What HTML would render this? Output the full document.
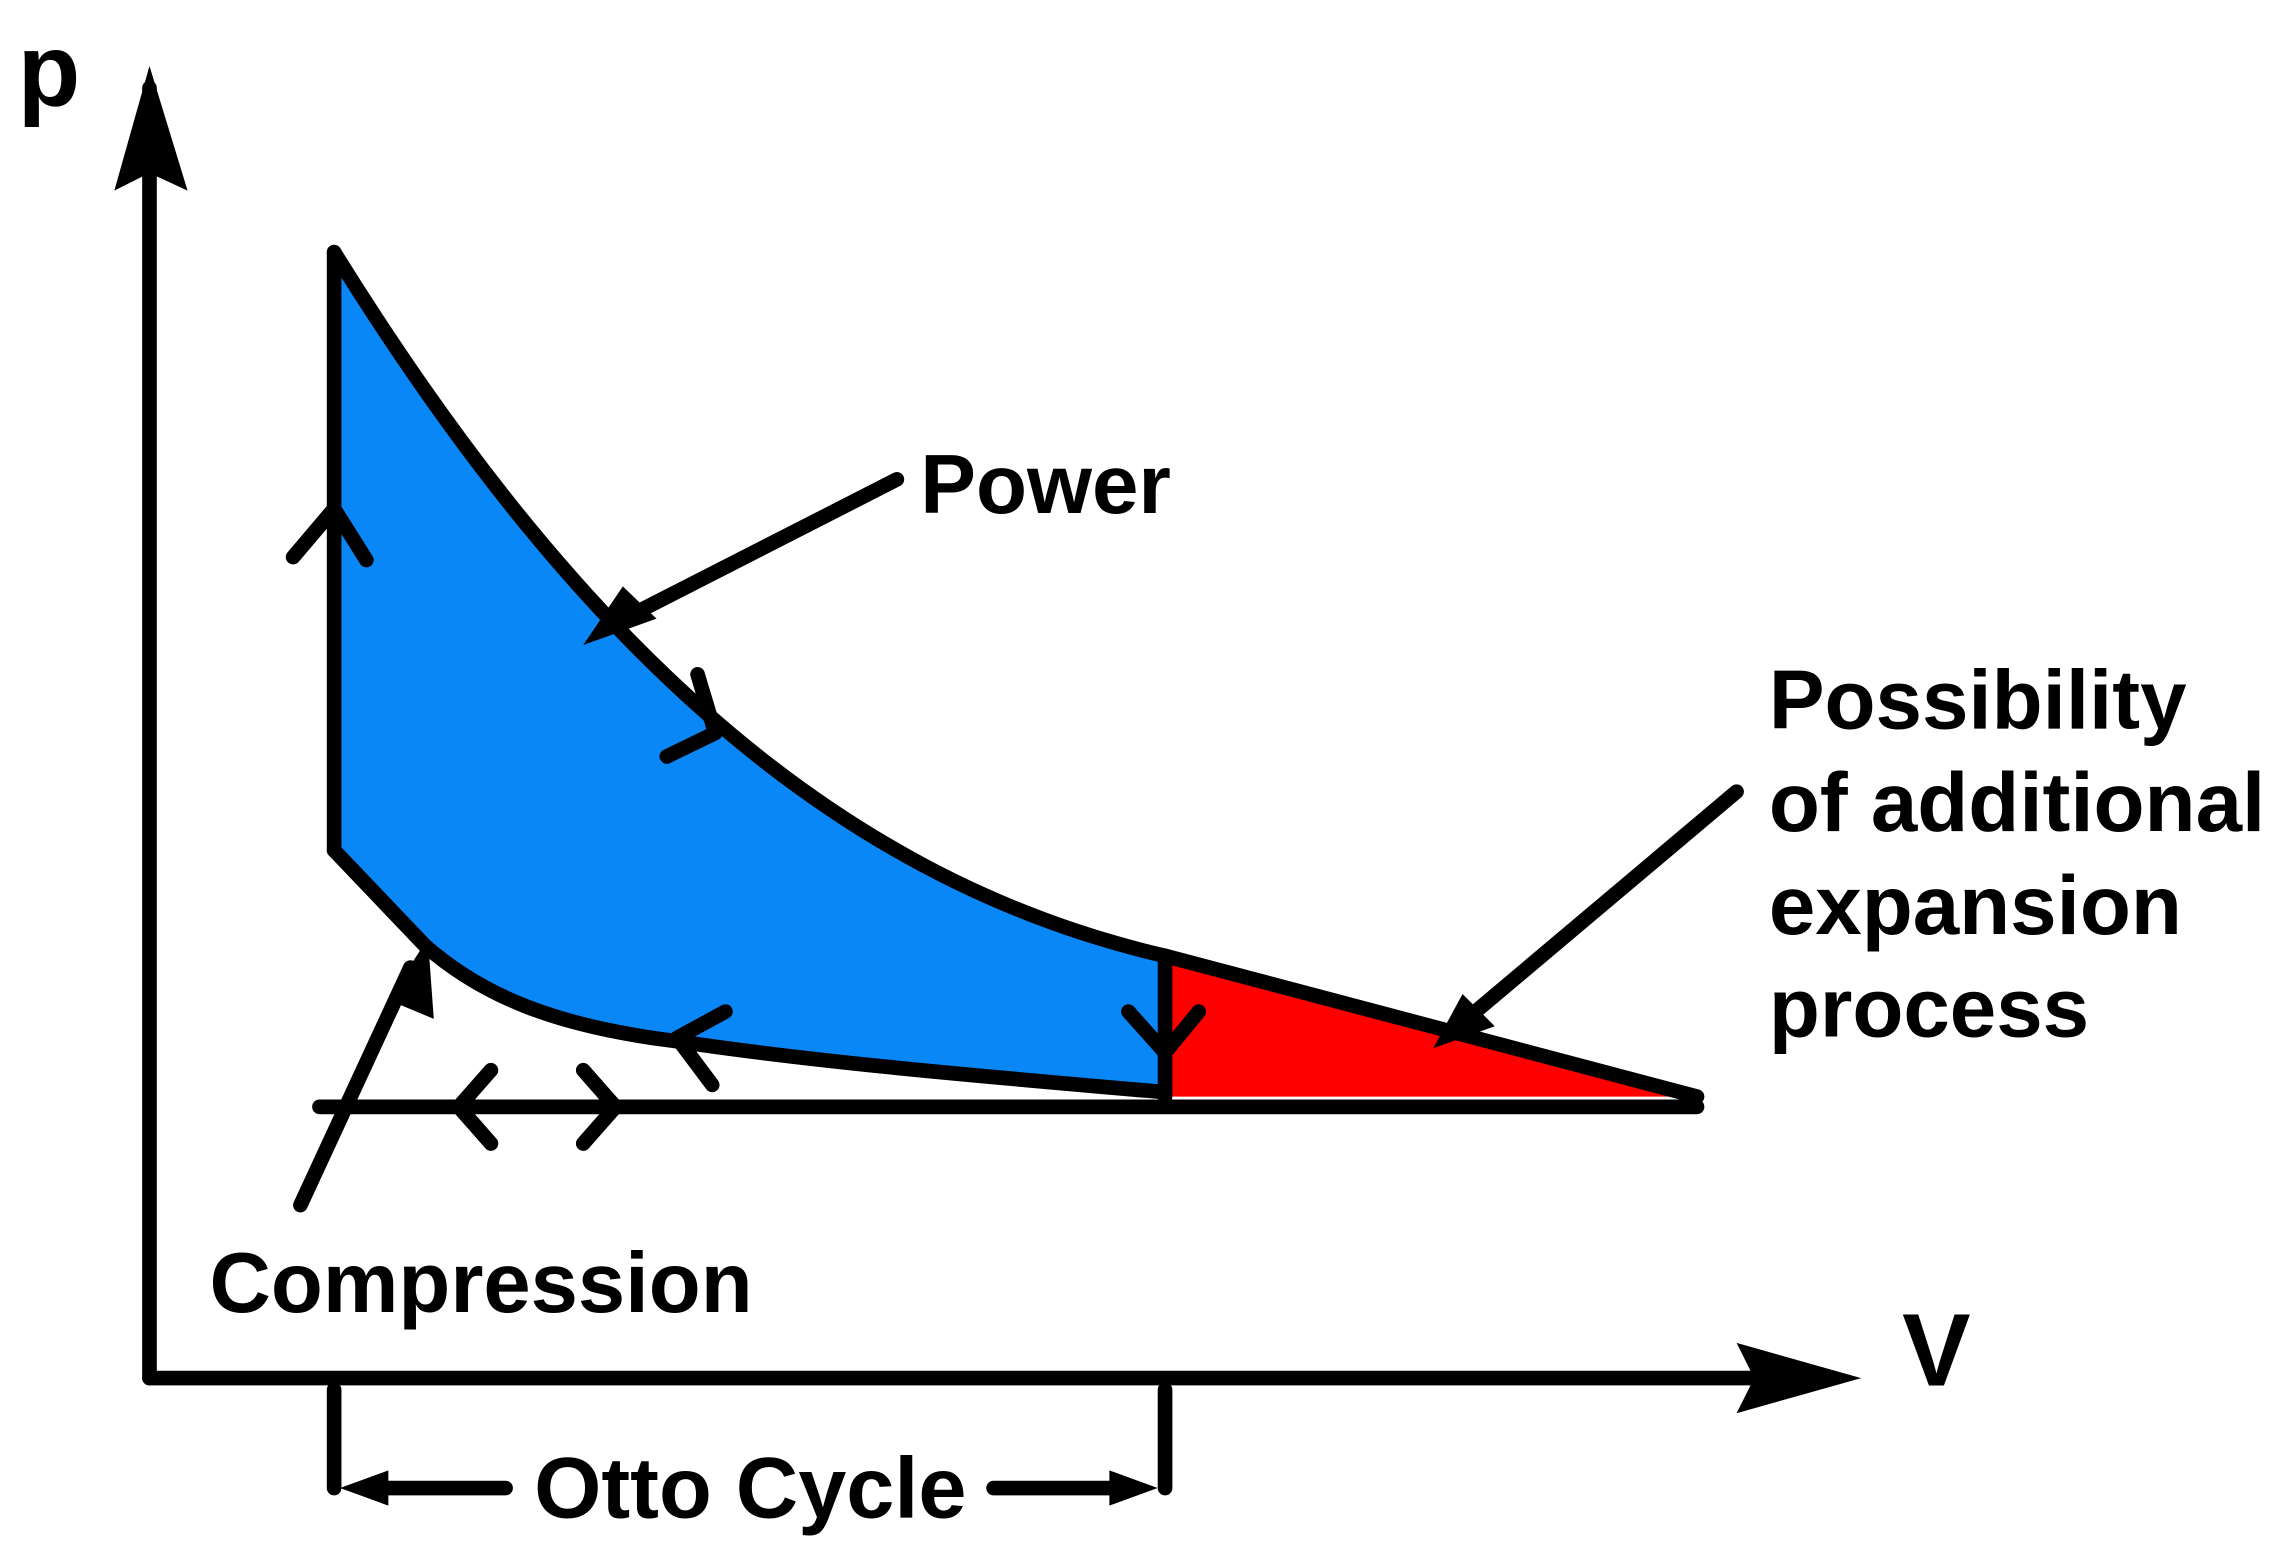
<!DOCTYPE html>
<html><head><meta charset="utf-8"><style>html,body{margin:0;padding:0;background:#fff}svg{display:block}</style></head>
<body>
<svg width="2292" height="1554" viewBox="0 0 1564 1060" preserveAspectRatio="none" xmlns="http://www.w3.org/2000/svg" font-family="Liberation Sans, sans-serif" font-weight="bold">
<rect width="1564" height="1060" fill="#fff"/>
<path d="M228,172 C385,425 560,598 795,652 L795,745 C680,735 560,725 460,710 C380,700 330,680 290,645 L228,580 Z" fill="#0a87f7"/>
<path d="M795,652 L1158,748 L795,748 Z" fill="#ff0000"/>
<g fill="none" stroke="#000" stroke-width="10" stroke-linecap="round" stroke-linejoin="round">
<path d="M102,940 L102,60"/>
<path d="M102,940 L1250,940"/>
<path d="M228,172 L228,580"/>
<path d="M228,172 C385,425 560,598 795,652 L1158,748"/>
<path d="M228,580 L290,645 C330,680 380,700 460,710 C560,725 680,735 795,745"/>
<path d="M218,755 L1158,755"/>
<path d="M795,652 L795,748"/>
<path d="M200,380 L228,347 L250,382"/>
<path d="M476,460 L488,500 L455,516"/>
<path d="M770,690 L795,718 L818,690"/>
<path d="M495,690 L462,708 L486,740"/>
<path d="M335,730 L313,755 L335,780"/>
<path d="M398,730 L420,755 L398,780"/>
<path d="M612,327 L420,425"/>
<path d="M1185,540 L995,700"/>
<path d="M205,822 L280,660"/>
<path d="M228,948 L228,1015"/>
<path d="M795,948 L795,1015"/>
<path d="M345,1015 L250,1015"/>
<path d="M678,1015 L775,1015"/>
</g>
<g fill="#000">
<path d="M102,45 L128,130 L102,118 L78,130 Z"/>
<path d="M1270,940 L1185,916 L1197,940 L1185,964 Z"/>
<path d="M398,440 L448,422 L425,400 Z"/>
<path d="M978,715 L1020,700 L998,678 Z"/>
<path d="M292,640 L296,695 L265,682 Z"/>
<path d="M232,1015 L265,1003 L265,1027 Z"/>
<path d="M790,1015 L757,1003 L757,1027 Z"/>
</g>
<g fill="#000">
<text x="12" y="72" font-size="70">p</text>
<text x="1298" y="945" font-size="70">V</text>
<text x="628" y="350" font-size="57">Power</text>
<text x="1207" y="497" font-size="57">Possibility</text>
<text x="1207" y="567" font-size="57">of additional</text>
<text x="1207" y="637" font-size="57">expansion</text>
<text x="1207" y="707" font-size="57">process</text>
<text x="143" y="895" font-size="58">Compression</text>
<text x="512" y="1035" font-size="59" text-anchor="middle">Otto Cycle</text>
</g>
</svg>
</body></html>
